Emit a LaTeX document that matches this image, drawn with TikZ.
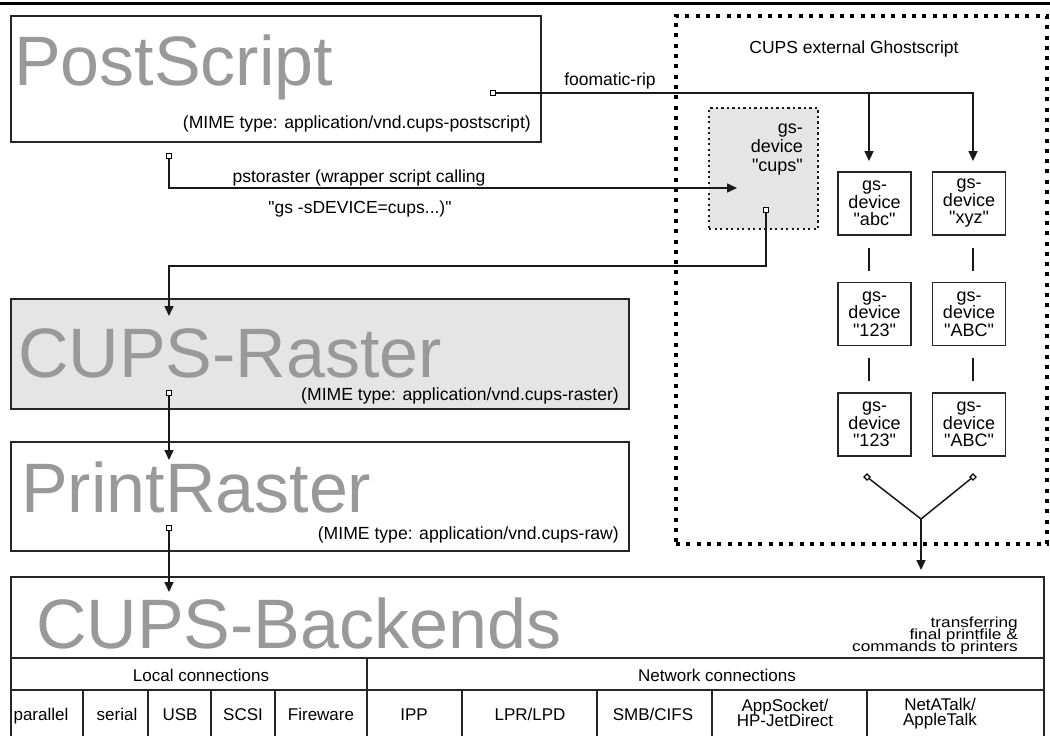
\documentclass[tikz,border=0pt]{standalone}
\usepackage{fontspec}
\setmainfont{Liberation Sans}
\newfontfamily\plainf{Liberation Sans}
\newfontfamily\stretchfont[FakeStretch=1.18]{Liberation Sans}
\usetikzlibrary{arrows.meta,shapes.geometric}
\begin{document}
\lineskiplimit=-50pt
\begin{tikzpicture}[x=1pt,y=-1pt,
  box/.style={draw=black!85, line width=1.8, inner sep=0, anchor=north west},
  big/.style={anchor=base west, inner sep=0, text=black!40, font=\fontsize{70}{70}\selectfont},
  mime/.style={anchor=base east, inner sep=0, font=\fontsize{17.6}{18}\selectfont},
  lbl/.style={anchor=base, inner sep=0, font=\plainf\fontsize{17.5}{18}\selectfont},
  cell/.style={anchor=base, inner sep=0, align=center, font=\fontsize{17}{15}\selectfont},
  dev/.style={draw=black!85, line width=1.8, minimum width=73, minimum height=63, inner sep=0, align=center, font=\plainf\fontsize{18}{17.5}\selectfont},
  conn/.style={line width=1.5, draw=black!90},
  arr/.style={conn, -{Triangle[width=9pt,length=10pt]}},
  tbl/.style={line width=1.6, draw=black!85},
  sq/.style={draw=black, fill=white, line width=1.1, minimum size=5, inner sep=0, rectangle},
  dia/.style={draw=black, fill=white, line width=1.1, minimum width=6.5, minimum height=6.5, inner sep=0, diamond}
]
\useasboundingbox (0,0) rectangle (1050,736);
% top rule
\draw[line width=3] (0,3.5) -- (1050,3.5);

% main boxes
\node[box, minimum width=530, minimum height=126] (ps) at (10,15) {};
\node[box, fill=black!10, minimum width=618, minimum height=110] (raster) at (10,298) {};
\node[box, minimum width=618, minimum height=109] (praster) at (10,441) {};
\node[box, minimum width=1033, minimum height=175] (backends) at (10,576) {};

% big titles
\node[big] (tps) at (14,85) {PostScript};
\node[big] (tra) at (18,377) {CUPS-Raster};
\node[big] (tpr) at (21,512) {PrintRaster};
\node[big] (tbe) at (36,648) {CUPS-Backends};

% MIME types
\node[mime] (mps) at (531,128) {(MIME type: application/vnd.cups-postscript)};
\node[mime] (mra) at (619,400) {(MIME type: application/vnd.cups-raster)};
\node[mime] (mpr) at (619,539) {(MIME type: application/vnd.cups-raw)};

% ghostscript region
\node[draw=black, line width=4, dash pattern=on 4pt off 6.3pt, minimum width=371, minimum height=528, anchor=north west, inner sep=0] (ghost) at (674,14) {};
\node[lbl] (lceg) at (854,53) {CUPS external Ghostscript};

\node[draw=black!90, line width=2.2, dash pattern=on 2.2pt off 3.3pt, fill=black!10, minimum width=109, minimum height=121, anchor=north west, inner sep=0] (cups) at (708,107) {};
\node[anchor=north east, align=right, inner sep=0, font=\plainf\fontsize{18}{19}\selectfont] (cupst) at (803,124) {gs-\\device\\"cups"};

\node[dev] (abc) at (874.5,203.5) {gs-\\device\\"abc"};
\node[dev] (xyz) at (969,203.5) {gs-\\device\\"xyz"};
\node[dev] (a123) at (874.5,314) {gs-\\device\\"123"};
\node[dev] (aABC) at (969,314) {gs-\\device\\"ABC"};
\node[dev] (b123) at (874.5,424.5) {gs-\\device\\"123"};
\node[dev] (bABC) at (969,424.5) {gs-\\device\\"ABC"};

\draw[conn] ([xshift=-5.5pt,yshift=-12pt]abc.south) -- ([xshift=-5.5pt,yshift=11pt]a123.north);
\draw[conn] ([xshift=-5.5pt,yshift=-12pt]a123.south) -- ([xshift=-5.5pt,yshift=11pt]b123.north);
\draw[conn] ([xshift=4pt,yshift=-12pt]xyz.south) -- ([xshift=4pt,yshift=11pt]aABC.north);
\draw[conn] ([xshift=4pt,yshift=-12pt]aABC.south) -- ([xshift=4pt,yshift=11pt]bABC.north);

% connectors
\node[sq] (sqf) at (493,93) {};
\coordinate (fb) at (869,93);
\draw[arr] (sqf.east) -| ([xshift=4pt,yshift=10pt]xyz.north);
\draw[arr] (fb) -- ([xshift=-5.5pt,yshift=10pt]abc.north);
\node[sq] at (sqf) {};
\node[lbl] (lfoo) at (610,85) {foomatic-rip};

\node[sq] (sqp) at (169,156) {};
\coordinate (cupsin) at (737,188);
\draw[arr] (sqp.south) |- (cupsin);
\node[lbl] (lps1) at (359,182) {pstoraster (wrapper script calling};
\node[lbl] (lps2) at (360,213) {"gs -sDEVICE=cups...)"};

\node[sq] (sqc) at (766,210) {};
\coordinate (turn) at (766,266);
\coordinate (rin) at (169,316);
\draw[arr] (sqc.south) -- (turn) -| (rin);

\node[sq] (sqr) at (169,393) {};
\coordinate (pin) at (169,460);
\draw[arr] (sqr.south) -- (pin);

\node[sq] (sqq) at (169,528) {};
\coordinate (bin) at (169,592);
\draw[arr] (sqq.south) -- (bin);

\node[dia] (d1) at (867,477) {};
\node[dia] (d2) at (973,477) {};
\coordinate (yj) at (921,519);
\coordinate (bkin) at (921,570);
\draw[conn] (d1) -- (yj) -- (d2);
\draw[arr] (yj) -- (bkin);

% backends table
\draw[tbl] (10,658) -- (1043,658);
\draw[tbl] (10,690) -- (1043,690);
\draw[tbl] (367,658) -- (367,740);
\foreach \xx in {83,148,211,275,462,597,712,867} {
  \draw[tbl] (\xx,690) -- (\xx,740);
}
\node[anchor=north east, align=right, inner sep=0, font=\stretchfont\fontsize{14.6}{12}\selectfont] (ltr) at (1018,616.5) {transferring\\final printfile \&\\commands to printers};

\node[cell] (clocal) at (201,681) {Local connections};
\node[cell] (cnet) at (717,681) {Network connections};
\node[cell] (c1) at (41,720) {parallel};
\node[cell] (c2) at (117,720) {serial};
\node[cell] (c3) at (180,720) {USB};
\node[cell] (c4) at (243,720) {SCSI};
\node[cell] (c5) at (321,720) {Fireware};
\node[cell] (c6) at (414,720) {IPP};
\node[cell] (c7) at (530,720) {LPR/LPD};
\node[cell] (c8) at (653,720) {SMB/CIFS};
\node[cell, anchor=north] (c9) at (785,699) {AppSocket/\\HP-JetDirect};
\node[cell, anchor=north] (c10) at (940,698) {NetATalk/\\AppleTalk};
\end{tikzpicture}
\end{document}
